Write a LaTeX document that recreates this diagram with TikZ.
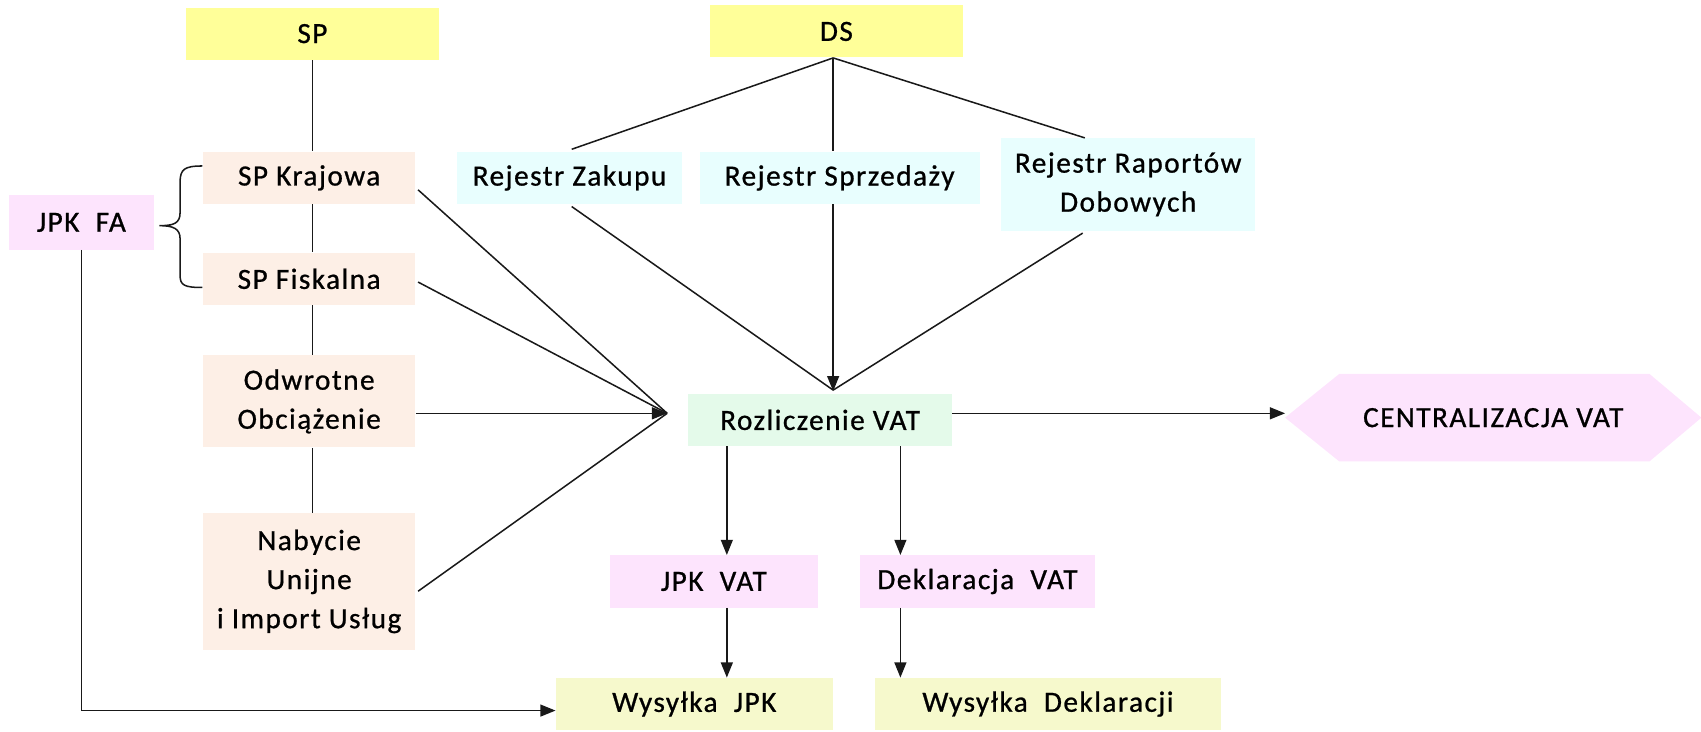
\documentclass[tikz,border=0pt]{standalone}
\usepackage{fontspec}
\setmainfont{Carlito}[LetterSpace=5,FakeBold=0.8]
\usetikzlibrary{arrows.meta,calc}
\definecolor{cyel}{HTML}{FFFF99}
\definecolor{cpeach}{HTML}{FDEFE6}
\definecolor{cpink}{HTML}{FDE4FD}
\definecolor{ccyan}{HTML}{E8FEFE}
\definecolor{cgreen}{HTML}{E4FAEA}
\definecolor{cwys}{HTML}{F6F9CC}
\tikzset{
  bx/.style={inner sep=0pt, align=center, font=\fontsize{13.5}{18}\selectfont, text=black},
  ln/.style={line width=0.7pt, draw=black!90},
  arr/.style={ln, -{Triangle[length=7pt,width=5.5pt]}}
}
\begin{document}
\begin{tikzpicture}[x=0.5pt,y=-0.5pt]
\useasboundingbox (0,0) rectangle (1568,674);
% nodes
\node[bx, fill=cyel, minimum width=116.5pt, minimum height=24pt] (sp) at (288,31) {SP};
\node[bx, fill=cyel, minimum width=116.5pt, minimum height=24pt] (ds) at (771,29) {DS};
\node[bx, fill=cpeach, minimum width=98pt, minimum height=24pt] (kraj) at (285,164) {SP Krajowa};
\node[bx, fill=cpeach, minimum width=98pt, minimum height=24pt] (fisk) at (285,257) {SP Fiskalna};
\node[bx, fill=cpeach, minimum width=98pt, minimum height=42.5pt] (odw) at (285,370) {Odwrotne\\Obciążenie};
\node[bx, fill=cpeach, minimum width=98pt, minimum height=63pt] (nab) at (285,536) {Nabycie\\Unijne\\i Import Usług};
\node[bx, fill=cpink, minimum width=67pt, minimum height=25pt] (jpkfa) at (75,205) {JPK\ \ FA};
\node[bx, fill=ccyan, minimum width=104pt, minimum height=24pt] (zak) at (525,164) {Rejestr Zakupu};
\node[bx, fill=ccyan, minimum width=129pt, minimum height=24pt] (sprz) at (774,164) {Rejestr Sprzedaży};
\node[bx, fill=ccyan, minimum width=117pt, minimum height=42.5pt] (rap) at (1040,170) {Rejestr Raportów\\Dobowych};
\node[bx, fill=cgreen, minimum width=121.5pt, minimum height=24pt] (roz) at (756,387) {Rozliczenie VAT};
\node[bx, fill=cpink, minimum width=96pt, minimum height=24pt] (jpkvat) at (658,536) {JPK\ \ VAT};
\node[bx, fill=cpink, minimum width=108.5pt, minimum height=24pt] (dek) at (901,536) {Deklaracja\ \ VAT};
\node[bx, fill=cwys, minimum width=127.5pt, minimum height=24pt] (wjpk) at (640,649) {Wysyłka\ \ JPK};
\node[bx, fill=cwys, minimum width=159.5pt, minimum height=24pt] (wdek) at (966,649) {Wysyłka\ \ Deklaracji};
% hexagon
\node[bx, minimum width=191.5pt, minimum height=40pt] (cent) at (1376.5,385) {};
\fill[cpink] (cent.west) -- ($(cent.north west)+(50,0)$) -- ($(cent.north east)+(-48,0)$) -- (cent.east) -- ($(cent.south east)+(-48,0)$) -- ($(cent.south west)+(50,0)$) -- cycle;
\node[bx] at (cent.center) {CENTRALIZACJA VAT};
% helper coordinates
\coordinate (vx) at (768,0);
\coordinate (cv) at (615,381);
\coordinate (c1) at (670,0);
\coordinate (c2) at (830,0);
\coordinate (fx) at (75,655);
% SP chain
\draw[ln] (sp.south) -- (sp.south |- kraj.north);
\draw[ln] (sp.south |- kraj.south) -- (sp.south |- fisk.north);
\draw[ln] (sp.south |- fisk.south) -- (sp.south |- odw.north);
\draw[ln] (sp.south |- odw.south) -- (sp.south |- nab.north);
% DS fan
\draw[ln] (ds.south -| vx) -- ($(zak.north)+(2,-2)$);
\draw[ln] (ds.south -| vx) -- (sprz.north -| vx);
\draw[ln] (ds.south -| vx) -- ($(rap.north)+(-40,0)$);
% into Rozliczenie
\draw[ln] ($(zak.south)+(2,2)$) -- ($(roz.north -| vx)+(0,-3)$);
\draw[ln] ($(rap.south)+(-42,2)$) -- ($(roz.north -| vx)+(0,-3)$);
\draw[arr] (sprz.south -| vx) -- ($(roz.north -| vx)+(0,-2)$);
\draw[ln] ($(kraj.east)+(2,11)$) -- (cv);
\draw[ln] ($(fisk.east)+(2,3)$) -- (cv);
\draw[ln] ($(nab.east)+(2,9)$) -- (cv);
\draw[arr] (odw.east |- cv) -- (cv);
% out of Rozliczenie
\draw[arr] (roz.east |- cv) -- (cent.west |- cv);
\draw[arr] (roz.south -| c1) -- (jpkvat.north -| c1);
\draw[arr] (roz.south -| c2) -- (dek.north -| c2);
\draw[arr] (jpkvat.south -| c1) -- (wjpk.north -| c1);
\draw[arr] (dek.south -| c2) -- (wdek.north -| c2);
% JPK FA
\draw[arr] (jpkfa.south) -- (fx) -- (wjpk.west |- fx);
% brace
\draw[ln] ($(kraj.west)+(0,-11)$) .. controls (170,153) and (166,156) .. (166,168) -- (166,196) .. controls (166,206) and (160,208) .. (147,208) .. controls (160,208) and (166,211) .. (166,220) -- (166,254) .. controls (166,263) and (170,265) .. ($(fisk.west)+(0,8)$);
\end{tikzpicture}
\end{document}
